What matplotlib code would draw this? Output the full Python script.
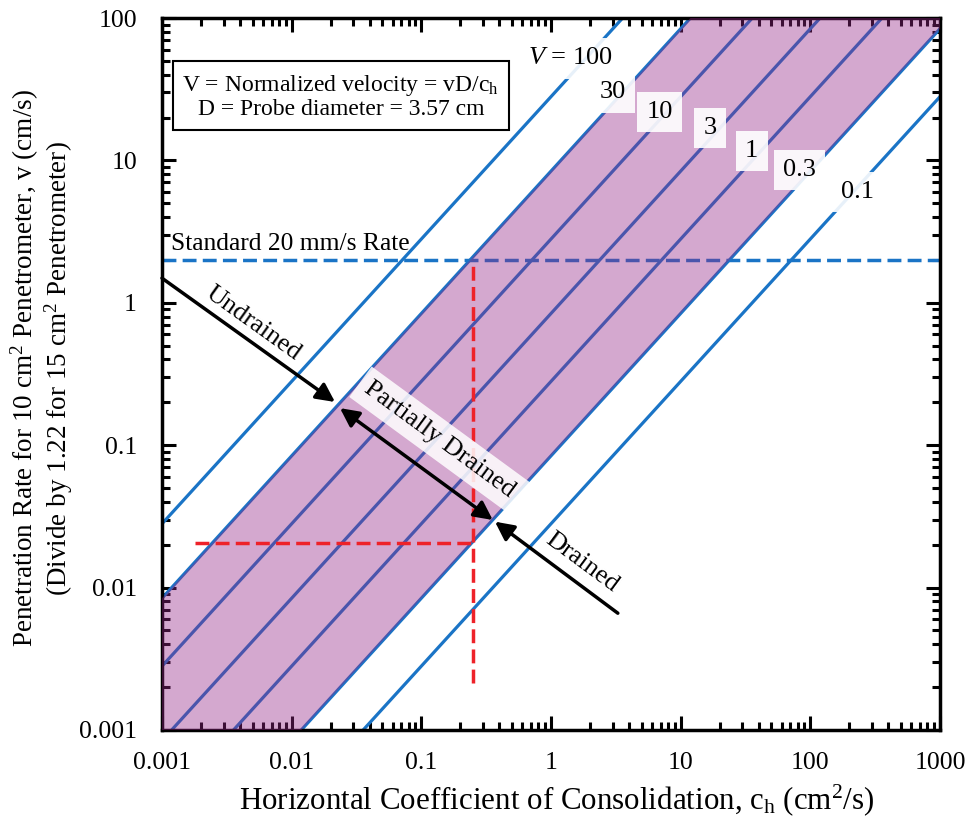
import numpy as np
import matplotlib
matplotlib.use("Agg")
import matplotlib.pyplot as plt
from matplotlib.ticker import FixedLocator, FuncFormatter, LogLocator, NullFormatter

plt.rcParams['font.family'] = ['Liberation Serif', 'DejaVu Serif']
plt.rcParams['mathtext.fontset'] = 'custom'
plt.rcParams['mathtext.rm'] = 'Liberation Serif'
plt.rcParams['mathtext.it'] = 'Liberation Serif:italic'

# data
D = 3.57                                   # probe diameter, cm
V_lines = [100, 30, 10, 3, 1, 0.3, 0.1]    # normalized velocity contours
V_band = (0.3, 30)                         # partially drained band
label_text = ['$\\it{V}$ = 100', '30', '10', '3', '1', '0.3', '0.1']
label_x = [1.4, 3.0, 6.9, 16.8, 35.4, 83, 232]
label_y = [52, 30, 21.9, 16.9, 11.6, 8.6, 6.0]
std_rate = 2.0                             # 20 mm/s in cm/s
red_x = 0.25
red_y = 0.0207
red_x_start = 0.0018
red_y_end = 0.00214
undrained = [(0.001, 1.49), (0.0216, 0.201)]
partial = [(0.0236, 0.182), (0.356, 0.0298)]
drained = [(3.28, 0.0066), (0.37, 0.029)]
xticks = [0.001, 0.01, 0.1, 1, 10, 100, 1000]
yticks = [0.001, 0.01, 0.1, 1, 10, 100]

blue = '#1a74c6'
red = '#ee2229'
dash = (0, (4, 1.8))

fig = plt.figure(figsize=(9.67, 8.21), dpi=100)
ax = fig.add_axes([0.1675, 0.111, 0.8045, 0.867])
ax.set_xscale('log')
ax.set_yscale('log')

ch = np.logspace(-3, 3, 300)
for V in V_lines:
    ax.plot(ch, V * ch / D, color=blue, lw=2.3, zorder=2)

ax.fill_between(ch, V_band[0] * ch / D, V_band[1] * ch / D,
                color='#942787', alpha=0.4, lw=0, zorder=3)

ax.axhline(std_rate, color=blue, lw=2.5, ls=dash, zorder=2)
ax.text(0.00118, std_rate * 1.08, 'Standard 20 mm/s Rate', fontsize=18.4,
        va='bottom', ha='left', zorder=4)

ax.plot([red_x, red_x], [red_y_end, std_rate], color=red, lw=2.5,
        ls=dash, zorder=4)
ax.plot([red_x_start, red_x], [red_y, red_y], color=red, lw=2.5,
        ls=dash, zorder=4)

for t, x, y in zip(label_text, label_x, label_y):
    ax.text(x, y, t, fontsize=19, ha='center', va='center', zorder=5,
            bbox=dict(boxstyle='square,pad=0.35', fc='white',
                      ec='none', alpha=0.9))

arr = dict(arrowstyle='-|>', color='black', lw=2.5, mutation_scale=28,
           shrinkA=0, shrinkB=0)
ax.annotate('', xy=undrained[1], xytext=undrained[0], arrowprops=arr,
            zorder=6)
ax.annotate('', xy=drained[1], xytext=drained[0], arrowprops=arr, zorder=6)
arr2 = dict(arr)
arr2['arrowstyle'] = '<|-|>'
ax.annotate('', xy=partial[1], xytext=partial[0], arrowprops=arr2, zorder=6)

ax.text(0.00503, 0.72, 'Undrained', fontsize=19, rotation=-35.6,
        ha='center', va='center', rotation_mode='anchor', zorder=6)
ax.text(0.139, 0.109, 'Partially Drained', fontsize=19, rotation=-36.2,
        ha='center', va='center', rotation_mode='anchor', zorder=5,
        bbox=dict(boxstyle='square,pad=0.3', fc='white', ec='none',
                  alpha=0.85))
ax.text(1.73, 0.0149, 'Drained', fontsize=19, rotation=-36.5,
        ha='center', va='center', rotation_mode='anchor', zorder=6)

ax.text(0.230, 0.890,
        'V = Normalized velocity = vD/c$_\\mathrm{h}$\nD = Probe diameter = 3.57 cm',
        transform=ax.transAxes, fontsize=17, ha='center', va='center',
        multialignment='center', linespacing=1.1, zorder=6,
        bbox=dict(boxstyle='square,pad=0.4', fc='white', ec='black', lw=1.5))

ax.set_xlim(1e-3, 1e3)
ax.set_ylim(1e-3, 1e2)
fmt = FuncFormatter(lambda v, p: '%g' % v)
ax.xaxis.set_major_locator(FixedLocator(xticks))
ax.yaxis.set_major_locator(FixedLocator(yticks))
ax.xaxis.set_major_formatter(fmt)
ax.yaxis.set_major_formatter(fmt)
ax.xaxis.set_minor_locator(LogLocator(base=10, subs=np.arange(2, 10), numticks=20))
ax.yaxis.set_minor_locator(LogLocator(base=10, subs=np.arange(2, 10), numticks=20))
ax.xaxis.set_minor_formatter(NullFormatter())
ax.yaxis.set_minor_formatter(NullFormatter())
ax.tick_params(which='both', direction='in', top=True, right=True, width=2.2)
ax.tick_params(which='major', length=10, labelsize=18.5)
ax.tick_params(axis='x', which='major', pad=16)
ax.tick_params(axis='y', which='major', pad=18)
ax.tick_params(which='minor', length=6)
for s in ax.spines.values():
    s.set_linewidth(2.5)

ax.set_xlabel('Horizontal Coefficient of Consolidation, c$_\\mathrm{h}$ (cm$^2$/s)',
              fontsize=22.3)
ax.xaxis.set_label_coords(0.508, -0.074)
ax.set_ylabel('Penetration Rate for 10 cm$^2$ Penetrometer, v (cm/s)\n'
              '(Divide by 1.22 for 15 cm$^2$ Penetrometer)',
              fontsize=19.5, linespacing=1.05)
ax.yaxis.set_label_coords(-0.112, 0.508)

fig.savefig('out.png', dpi=100)
